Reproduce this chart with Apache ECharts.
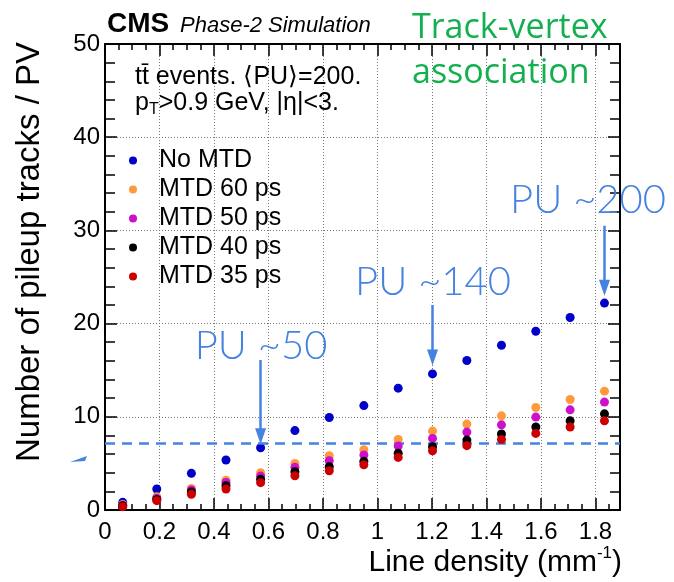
<!DOCTYPE html>
<html>
<head>
<meta charset="utf-8">
<script src="https://cdn.jsdelivr.net/npm/echarts@6/dist/echarts.min.js"></script>
<style>html,body{margin:0;padding:0;background:#fff;}#c{width:674px;height:582px;}</style>
</head>
<body>
<div id="c"></div>
<script>
// Line density bin centres (mm^-1)
const xValues = [0.065, 0.19, 0.317, 0.444, 0.571, 0.697, 0.823, 0.95, 1.076, 1.202, 1.328, 1.455, 1.581, 1.707, 1.833];
// Number of pileup tracks / PV
const noMTD  = [0.82, 2.25, 3.93, 5.36, 6.68, 8.52, 9.92, 11.2, 13.07, 14.6, 16.04, 17.68, 19.18, 20.65, 22.2];
const mtd60  = [0.6, 1.43, 2.32, 3.2, 4.0, 5.0, 5.82, 6.47, 7.57, 8.47, 9.22, 10.1, 11.0, 11.86, 12.75];
const mtd50  = [0.5, 1.25, 2.14, 2.96, 3.64, 4.58, 5.28, 5.9, 6.86, 7.68, 8.36, 9.14, 9.97, 10.75, 11.58];
const mtd40  = [0.45, 1.14, 1.93, 2.6, 3.29, 4.1, 4.64, 5.22, 6.1, 6.79, 7.5, 8.15, 8.9, 9.57, 10.32];
const mtd35  = [0.36, 1.0, 1.68, 2.25, 2.93, 3.68, 4.21, 4.86, 5.64, 6.36, 6.9, 7.57, 8.22, 8.9, 9.57];
const seriesNames = ['No MTD', 'MTD 60 ps', 'MTD 50 ps', 'MTD 40 ps', 'MTD 35 ps'];
const seriesColors = ['#0000c8', '#ff9a3c', '#cc10cc', '#000000', '#cc0000'];
const xTicks = { min: 0, max: 1.89, interval: 0.2 };
const yTicks = { min: 0, max: 50, interval: 10 };
const threshold = 7.2;
const arrows = [ // [x, yStart, yEnd]
  [0.571, 16.1, 7.9],
  [1.202, 22.0, 16.35],
  [1.833, 30.5, 23.85]
];

const FONT = 'Liberation Sans';
const blue = '#4682e0';
const chart = echarts.init(document.getElementById('c'), null, { renderer: 'canvas' });

function pairs(ys) { return xValues.map((x, i) => [x, ys[i]]); }
const allY = [noMTD, mtd60, mtd50, mtd40, mtd35];

const axisLineStyle = { color: '#000', width: 2 };
function xAxisCfg(pos, labels) {
  return {
    type: 'value', position: pos, min: xTicks.min, max: xTicks.max, interval: xTicks.interval,
    axisLine: { show: true, onZero: false, lineStyle: axisLineStyle },
    axisTick: { show: true, inside: true, length: 12, lineStyle: { color: '#000', width: 1.5 } },
    minorTick: { show: true, splitNumber: 4, length: 6, lineStyle: { color: '#000', width: 1.5 } },
    axisLabel: { show: labels, showMaxLabel: false, margin: 10, fontFamily: FONT, fontSize: 24, color: '#000' },
    splitLine: { show: labels, lineStyle: { color: '#777', width: 1, type: [1, 2] } }
  };
}
function yAxisCfg(pos, labels) {
  return {
    type: 'value', position: pos, min: yTicks.min, max: yTicks.max, interval: yTicks.interval,
    axisLine: { show: true, onZero: false, lineStyle: axisLineStyle },
    axisTick: { show: true, inside: true, length: 12, lineStyle: { color: '#000', width: 1.5 } },
    minorTick: { show: true, splitNumber: 5, length: 10, lineStyle: { color: '#000', width: 1.5 } },
    axisLabel: { show: labels, margin: 5, fontFamily: FONT, fontSize: 24, color: '#000' },
    splitLine: { show: labels, lineStyle: { color: '#777', width: 1, type: [1, 2] } }
  };
}

const series = seriesNames.map((name, i) => ({
  name, type: 'scatter', symbol: 'circle', symbolSize: 9,
  itemStyle: { color: seriesColors[i], opacity: 1 },
  data: pairs(allY[i]), z: 3 + i
}));

series[0].markLine = {
  silent: true, animation: false,
  label: { show: false },
  symbol: ['none', 'none'],
  data: [
    { yAxis: threshold, lineStyle: { color: blue, width: 2.5, type: [10, 7] } }
  ]
};
series.push({
  name: 'arrows', type: 'scatter', data: [], z: 2,
  markLine: {
    silent: true, animation: false, label: { show: false },
    symbol: ['none', 'triangle'], symbolSize: [11, 16],
    lineStyle: { color: blue, width: 2.5, type: 'solid' },
    data: arrows.map(a => [{ coord: [a[0], a[1]] }, { coord: [a[0], a[2]] }])
  }
});

const txt = (x, y, text, style) => ({
  type: 'text', x, y, silent: true, z: 100,
  style: Object.assign({ text, fill: '#000', fontFamily: FONT, align: 'left', verticalAlign: 'middle' }, style)
});

chart.setOption({
  animation: false,
  backgroundColor: '#fff',
  grid: { left: 105, top: 44, right: 54, bottom: 72, containLabel: false },
  xAxis: [xAxisCfg('bottom', true), xAxisCfg('top', false)],
  yAxis: [yAxisCfg('left', true), yAxisCfg('right', false)],
  legend: {
    data: seriesNames, orient: 'vertical', left: 129, top: 146, padding: 0,
    itemWidth: 42, itemHeight: 8, itemGap: 0, icon: 'circle', selectedMode: false,
    textStyle: { fontFamily: FONT, fontSize: 25, lineHeight: 29, color: '#000' }
  },
  series,
  graphic: [
    txt(107, 24, 'CMS', { fontSize: 28, fontWeight: 'bold' }),
    txt(180, 26, 'Phase-2 Simulation', { fontSize: 22, fontStyle: 'italic' }),
    txt(135, 77, 't\u0074\u0304 events. \u27E8PU\u27E9=200.', { fontSize: 25 }),
    txt(135, 103, '{a|p}{s|T}{a|>0.9 GeV, |\u03B7|<3.}', {
      rich: { a: { fontSize: 25, fontFamily: FONT, fill: '#000', lineHeight: 30 },
              s: { fontSize: 16, fontFamily: FONT, fill: '#000', verticalAlign: 'bottom', lineHeight: 16 } }
    }),
    txt(412, 28, 'Track-vertex', { fontSize: 34, fontFamily: 'Open Sans', fill: '#14b04f' }),
    txt(412, 73, 'association', { fontSize: 34, fontFamily: 'Open Sans', fill: '#14b04f' }),
    txt(261, 346, 'PU ~50', { fontSize: 40, fontFamily: 'Lato', fontWeight: 300, fill: blue, align: 'center' }),
    txt(433, 282, 'PU ~140', { fontSize: 40, fontFamily: 'Lato', fontWeight: 300, fill: blue, align: 'center' }),
    txt(588, 200, 'PU ~200', { fontSize: 40, fontFamily: 'Lato', fontWeight: 300, fill: blue, align: 'center' }),
    txt(622, 563, '{a|Line density (mm}{s|-1}{a|)}', {
      align: 'right',
      rich: { a: { fontSize: 30, fontFamily: FONT, fill: '#000', lineHeight: 36 },
              s: { fontSize: 17, fontFamily: FONT, fill: '#000', verticalAlign: 'top', lineHeight: 17 } }
    }),
    {
      type: 'text', x: 30, y: 42, rotation: Math.PI / 2, silent: true, z: 100,
      style: { text: 'Number of pileup tracks / PV', fontFamily: FONT, fontSize: 33, fill: '#000', align: 'right', verticalAlign: 'middle' }
    },
    {
      type: 'polygon', silent: true, z: 100,
      shape: { points: [[70, 462], [87, 456], [85, 461]] },
      style: { fill: blue }
    }
  ]
});
</script>
</body>
</html>
